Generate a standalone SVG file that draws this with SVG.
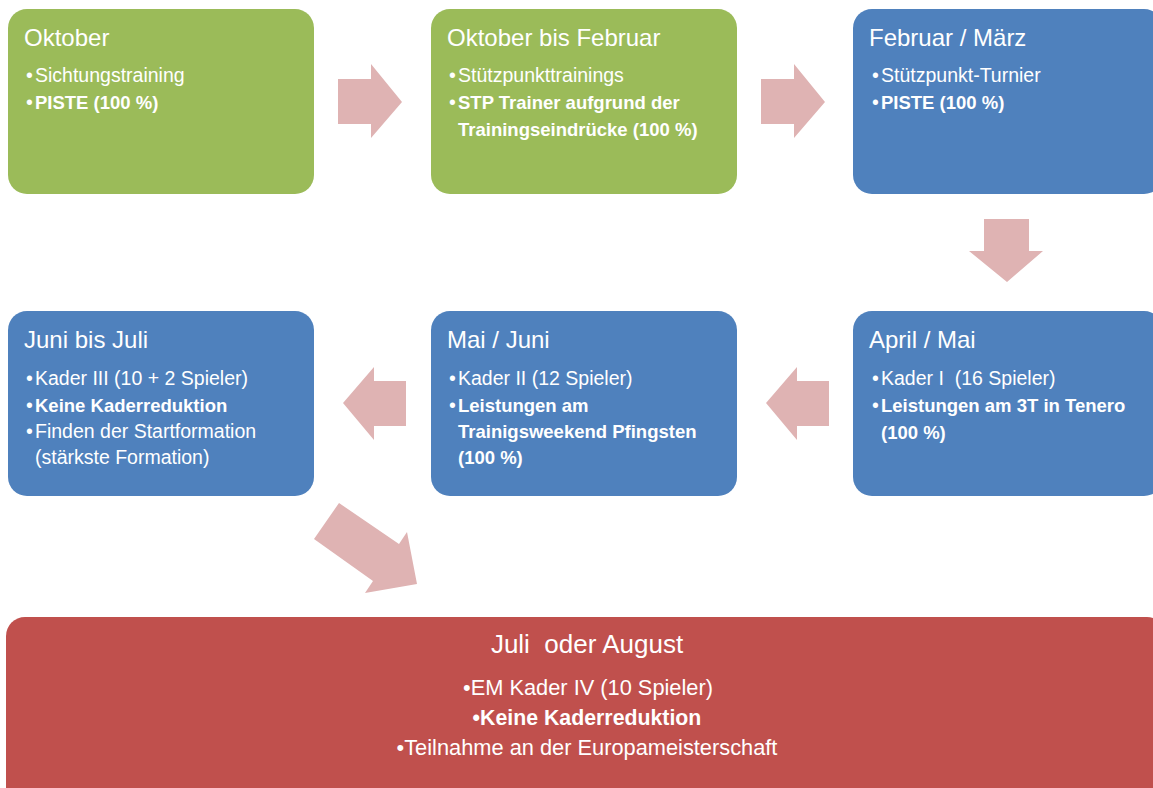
<svg xmlns="http://www.w3.org/2000/svg" width="1153" height="788" viewBox="0 0 1153 788">
<style>
.g{fill:#9BBB59}
.b{fill:#4F81BD}
.r{fill:#C0504D}
.arr{fill:#DFB3B3}
text{font-family:"Liberation Sans",Arial,sans-serif;fill:#FFFFFF}
.t{font-size:24px}
.i{font-size:19.5px}
.bd{font-size:18.5px;font-weight:bold}
.c{text-anchor:middle}
.bt{font-size:26px}
.bi{font-size:21.8px}
.bb{font-size:21.3px;font-weight:bold}
</style>
<rect width="1153" height="788" fill="#FFFFFF"/>
<g id="connectors">
<polygon class="arr" points="338,79 371,79 371,64 402,102 371,138 371,124 338,124"/>
<polygon class="arr" points="761,79 794,79 794,64 825,102 794,138 794,124 761,124"/>
<polygon class="arr" points="984,219 1029,219 1029,251 1043,251 1007,282 969,251 984,251"/>
<polygon class="arr" points="829,381 797,381 797,367 766,403 797,440 797,426 829,426"/>
<polygon class="arr" points="406,381 374,381 374,367 343,403 374,440 374,426 406,426"/>
<polygon class="arr" points="339,503 399,544 407,532 417,584 365,593 373,581 314,539"/>
</g>
<g id="n1">
<rect class="g" x="8" y="9" width="306" height="185" rx="19"/>
<text class="t" x="24" y="46">Oktober</text>
<text class="i" x="26" y="82">•</text><text class="i" x="35" y="82">Sichtungstraining</text>
<text class="i" x="26" y="109">•</text><text class="bd" x="35" y="109">PISTE (100 %)</text>
</g>
<g id="n2">
<rect class="g" x="431" y="9" width="306" height="185" rx="19"/>
<text class="t" x="447" y="46">Oktober bis Februar</text>
<text class="i" x="449" y="82">•</text><text class="i" x="458" y="82">Stützpunkttrainings</text>
<text class="i" x="449" y="109">•</text><text class="bd" x="458" y="109">STP Trainer aufgrund der</text>
<text class="bd" x="458" y="136">Trainingseindrücke (100 %)</text>
</g>
<g id="n3">
<rect class="b" x="853" y="9" width="310" height="185" rx="19"/>
<text class="t" x="869" y="46">Februar / März</text>
<text class="i" x="872" y="82">•</text><text class="i" x="881" y="82">Stützpunkt-Turnier</text>
<text class="i" x="872" y="109">•</text><text class="bd" x="881" y="109">PISTE (100 %)</text>
</g>
<g id="n4">
<rect class="b" x="853" y="311" width="310" height="185" rx="19"/>
<text class="t" x="869" y="348">April / Mai</text>
<text class="i" x="872" y="385">•</text><text class="i" x="881" y="385" xml:space="preserve">Kader I  (16 Spieler)</text>
<text class="i" x="872" y="412">•</text><text class="bd" x="881" y="412">Leistungen am 3T in Tenero</text>
<text class="bd" x="881" y="439">(100 %)</text>
</g>
<g id="n5">
<rect class="b" x="431" y="311" width="306" height="185" rx="19"/>
<text class="t" x="447" y="348">Mai / Juni</text>
<text class="i" x="449" y="385">•</text><text class="i" x="458" y="385">Kader II (12 Spieler)</text>
<text class="i" x="449" y="412">•</text><text class="bd" x="458" y="412">Leistungen am</text>
<text class="bd" x="458" y="438">Trainigsweekend Pfingsten</text>
<text class="bd" x="458" y="464">(100 %)</text>
</g>
<g id="n6">
<rect class="b" x="8" y="311" width="306" height="185" rx="19"/>
<text class="t" x="24" y="348">Juni bis Juli</text>
<text class="i" x="26" y="385">•</text><text class="i" x="35" y="385">Kader III (10 + 2 Spieler)</text>
<text class="i" x="26" y="412">•</text><text class="bd" x="35" y="412">Keine Kaderreduktion</text>
<text class="i" x="26" y="438">•</text><text class="i" x="35" y="438">Finden der Startformation</text>
<text class="i" x="35" y="464">(stärkste Formation)</text>
</g>
<g id="n7">
<rect class="r" x="6" y="617" width="1160" height="200" rx="19"/>
<text class="bt c" x="587" y="653" xml:space="preserve">Juli  oder August</text>
<text class="bi c" x="588" y="695">•EM Kader IV (10 Spieler)</text>
<text class="bb c" x="587" y="725">•Keine Kaderreduktion</text>
<text class="bi c" x="587" y="755">•Teilnahme an der Europameisterschaft</text>
</g>
</svg>
